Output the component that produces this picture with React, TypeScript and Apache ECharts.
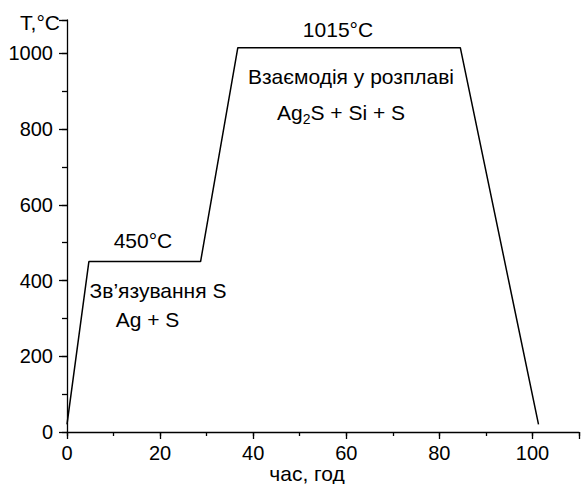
import React, { useEffect, useRef } from "react";
import * as echarts from "echarts";

// time (h) and temperature (°C) of the heating programme
const timeH = [0, 4.7, 28.7, 36.7, 84.5, 101.3];
const tempC = [20, 450, 450, 1015, 1015, 20];

const xMajorTicks = [0, 20, 40, 60, 80, 100];
const yMajorTicks = [0, 200, 400, 600, 800, 1000];

const xAxisName = "час, год";
const yAxisName = "T,°C";
const plateau1Label = "450°C";
const plateau2Label = "1015°C";
const stage1Lines = ["Зв’язування S", "Ag + S"];
const stage2Title = "Взаємодія у розплаві";
const stage2Parts = ["Ag", "2", "S + Si + S"];

const FONT = '"Liberation Sans", Arial, sans-serif';

export default function App() {
  const ref = useRef<HTMLDivElement>(null);
  useEffect(() => {
    if (!ref.current) return;
    const chart = echarts.init(ref.current, undefined, { renderer: "svg" });
    const axisLineStyle = { color: "#000", width: 1.3 };
    const txt = (text: string, x: number, y: number, align = "center", size = 21) => ({
      type: "text",
      style: {
        text,
        x,
        y,
        fill: "#000",
        font: `${size}px ${FONT}`,
        align,
        verticalAlign: "middle",
        textAlign: align,
        textVerticalAlign: "middle",
      },
    });
    chart.setOption({
      animation: false,
      backgroundColor: "#fff",
      grid: { left: 67, right: 0, top: 20, bottom: 52, containLabel: false },
      xAxis: [
        {
          type: "value",
          min: 0,
          max: 110,
          interval: 20,
          axisLine: { lineStyle: axisLineStyle },
          axisTick: { show: true, length: 7, inside: false, lineStyle: axisLineStyle },
          splitLine: { show: false },
          axisLabel: {
            color: "#000",
            fontSize: 20,
            fontFamily: FONT,
            margin: 11,
            formatter: (v: number) => (xMajorTicks.includes(v) ? String(v) : ""),
          },
        },
        {
          type: "value",
          min: 0,
          max: 110,
          interval: 10,
          position: "bottom",
          axisLine: { show: false },
          axisTick: { show: true, length: 4, lineStyle: axisLineStyle },
          splitLine: { show: false },
          axisLabel: { show: false },
        },
      ],
      yAxis: [
        {
          type: "value",
          min: 0,
          max: 1088,
          interval: 200,
          axisLine: { show: true, lineStyle: axisLineStyle },
          axisTick: { show: true, length: 8, lineStyle: axisLineStyle },
          splitLine: { show: false },
          axisLabel: {
            color: "#000",
            fontSize: 20,
            fontFamily: FONT,
            margin: 14,
            formatter: (v: number) => (yMajorTicks.includes(v) ? String(v) : ""),
          },
        },
        {
          type: "value",
          min: 0,
          max: 1088,
          interval: 100,
          position: "left",
          axisLine: { show: false },
          axisTick: { show: true, length: 5, lineStyle: axisLineStyle },
          splitLine: { show: false },
          axisLabel: { show: false },
        },
      ],
      series: [
        {
          type: "line",
          xAxisIndex: 0,
          yAxisIndex: 0,
          data: timeH.map((t, i) => [t, tempC[i]]),
          symbol: "none",
          lineStyle: { color: "#000", width: 1.5 },
        },
      ],
      graphic: [
        txt(yAxisName, 60, 22, "right"),
        txt(xAxisName, 307, 473),
        txt(plateau2Label, 338, 29),
        txt(stage2Title, 351, 76),
        txt(stage2Parts[0], 277, 112, "left"),
        txt(stage2Parts[1], 302.7, 119, "left", 14),
        txt(stage2Parts[2], 310.5, 112, "left"),
        txt(plateau1Label, 143, 240),
        txt(stage1Lines[0], 158, 290),
        txt(stage1Lines[1], 147.5, 319),
      ],
    });
    return () => chart.dispose();
  }, []);
  return (
    <div
      ref={ref}
      style={{ position: "absolute", left: 0, top: 0, width: 582, height: 484 }}
    />
  );
}
